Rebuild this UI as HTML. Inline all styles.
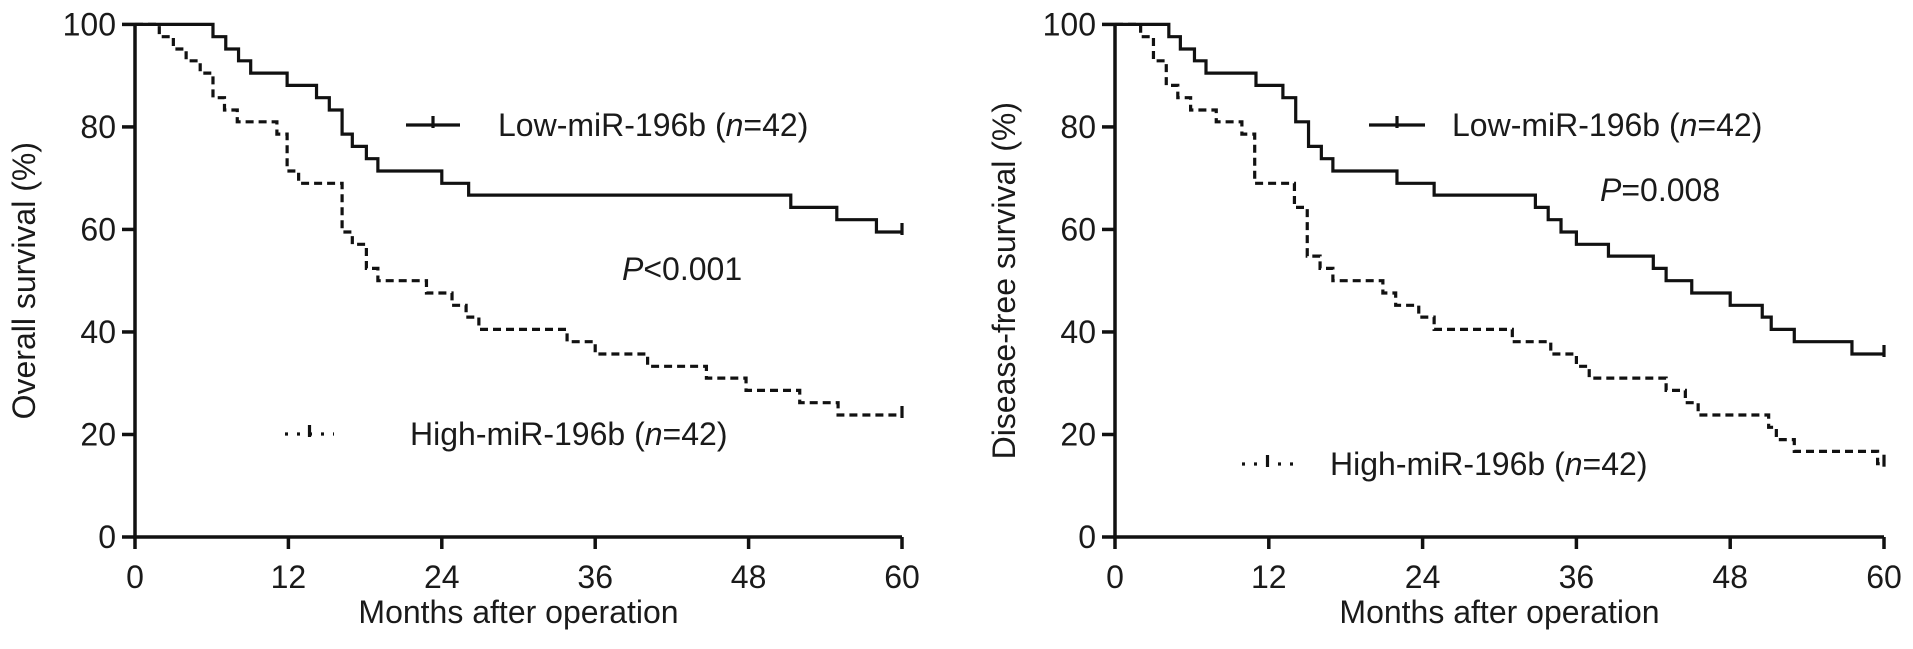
<!DOCTYPE html>
<html><head><meta charset="utf-8"><style>
body{margin:0;background:#fff;}
svg text{font-family:"Liberation Sans",Arial,sans-serif;fill:#1a1a1a;}
</style></head><body>
<svg id="chart" width="1913" height="644" viewBox="0 0 1913 644" xmlns="http://www.w3.org/2000/svg"></svg>
<script>
var xTicks=[0,12,24,36,48,60];
var yTicks=[0,20,40,60,80,100];
var osLowT=[6.1,7.1,8.1,9.05,11.9,14.2,15.2,16.2,17.0,18.1,19.0,24.0,26.1,51.3,54.9,58.0];
var osLowS=[97.6,95.2,92.9,90.5,88.1,85.7,83.3,78.6,76.2,73.8,71.4,69.0,66.7,64.3,61.9,59.5];
var osHighT=[1.9,3.0,4.0,5.1,6.1,7.0,8.0,11.1,11.9,12.8,16.2,17.0,18.1,19.0,22.8,24.8,25.9,26.9,33.8,36.0,40.1,44.7,47.8,52.0,55.0];
var osHighS=[97.6,95.2,92.9,90.5,85.7,83.3,81.0,78.6,71.4,69.0,59.5,57.1,52.4,50.0,47.6,45.2,42.9,40.5,38.1,35.7,33.3,31.0,28.6,26.2,23.8];
var dfsLowT=[4.2,5.1,6.2,7.1,11.0,13.1,14.1,15.1,16.1,17.0,22.0,24.9,32.8,33.8,34.8,36.0,38.5,42.0,43.0,45.0,48.0,50.5,51.2,53.0,57.5];
var dfsLowS=[97.6,95.2,92.9,90.5,88.1,85.7,81.0,76.2,73.8,71.4,69.0,66.7,64.3,61.9,59.5,57.1,54.8,52.4,50.0,47.6,45.2,42.9,40.5,38.1,35.7];
var dfsHighT=[2.0,3.0,4.0,4.9,5.9,7.9,9.9,10.9,14.0,15.0,16.0,17.0,20.9,21.9,23.7,24.9,31.0,34.0,36.0,37.0,43.0,44.5,45.5,51.0,51.6,53.0,59.5];
var dfsHighS=[97.6,92.9,88.1,85.7,83.3,81.0,78.6,69.0,64.3,54.8,52.4,50.0,47.6,45.2,42.9,40.5,38.1,35.7,33.3,31.0,28.6,26.2,23.8,21.4,19.0,16.7,14.3];

var NS='http://www.w3.org/2000/svg';
var svg=document.getElementById('chart');
var FS=32;
function mk(tag,attrs,parent){var e=document.createElementNS(NS,tag);for(var k in attrs){e.setAttribute(k,String(attrs[k]));}(parent||svg).appendChild(e);return e;}
var Y0=537,Y100=24.4;
function yS(v){return Y0-(Y0-Y100)*v/100;}
function addSpans(textEl,parts){
  for(var i=0;i<parts.length;i++){
    var s=document.createElementNS(NS,'tspan');
    if(parts[i][1]){s.setAttribute('font-style','italic');}
    s.textContent=parts[i][0];
    textEl.appendChild(s);
  }
}

function panel(x0,x60,title,lowT,lowS,highT,highS,pfx){
  var g=mk('g',{});
  
  
  var xS=function(t){return x0+(x60-x0)*t/60;};
  var ax=mk('path',{d:'M'+x0+','+yS(100)+' V'+Y0+' H'+x60,stroke:'#111','stroke-width':3.5,fill:'none'},g);
  
  
  xTicks.forEach(function(t){
    var x=xS(t);
    var tk=mk('line',{x1:x,x2:x,y1:Y0,y2:Y0+12,stroke:'#111','stroke-width':3.5},g);
    
    
    var tx=mk('text',{x:x,y:Y0+51,'text-anchor':'middle','font-size':FS},g);
    tx.textContent=String(t);
    
    
  });
  yTicks.forEach(function(v){
    var y=yS(v);
    var tk=mk('line',{x1:x0-13,x2:x0,y1:y,y2:y,stroke:'#111','stroke-width':3.5},g);
    
    
    var tx=mk('text',{x:x0-19,y:y+11,'text-anchor':'end','font-size':FS},g);
    tx.textContent=String(v);
    
    
  });
  var xt=mk('text',{x:(x0+x60)/2,y:Y0+86,'text-anchor':'middle','font-size':FS},g);
  xt.textContent='Months after operation';
  
  
  var yx=x0-100,yy=(Y0+Y100)/2;
  var yt=mk('text',{x:yx,y:yy,'text-anchor':'middle','font-size':FS,transform:'rotate(-90 '+yx+' '+yy+')'},g);
  yt.textContent=title;
  
  
  function curve(T,S,dash,name){
    var d='M'+xS(0)+','+yS(100);var cur=100;
    for(var i=0;i<T.length;i++){d+=' H'+xS(T[i])+' V'+yS(S[i]);cur=S[i];}
    d+=' H'+xS(60);
    var attrs={d:d,stroke:'#111','stroke-width':3.2,fill:'none'};
    if(dash){attrs['stroke-dasharray']=dash;}
    var p=mk('path',attrs,g);
    
    
    var c=mk('line',{x1:xS(60),x2:xS(60),y1:yS(cur)-9,y2:yS(cur)+3,stroke:'#111','stroke-width':3.2},g);
    
    
  }
  curve(lowT,lowS,null,pfx+'-low-curve');
  curve(highT,highS,'8 5',pfx+'-high-curve');
  return g;
}
var gL=panel(135,902,'Overall survival (%)',osLowT,osLowS,osHighT,osHighS,'os');
var gR=panel(1115,1884,'Disease-free survival (%)',dfsLowT,dfsLowS,dfsHighT,dfsHighS,'dfs');

function legend(g,x1,x2,tx,y,dashed,label,pfx){
  var la={x1:x1,x2:x2,y1:y,y2:y,stroke:'#111','stroke-width':3.2};
  if(dashed){la['stroke-dasharray']='3 9';}
  var l=mk('line',la,g);
  
  
  var m=(x1+x2)/2;
  var tkm=mk('line',{x1:m,x2:m,y1:y-9,y2:y+3,stroke:'#111','stroke-width':3.2},g);
  
  
  var te=mk('text',{x:tx,y:y+11,'font-size':FS},g);
  addSpans(te,[[label+' (',false],['n',true],['=42)',false]]);
  
  
}
legend(gL,406,460,498,125,false,'Low-miR-196b','os-low');
legend(gL,285,334,410,434,true,'High-miR-196b','os-high');
legend(gR,1369,1425,1452,125,false,'Low-miR-196b','dfs-low');
legend(gR,1242,1293,1330,464,true,'High-miR-196b','dfs-high');

var p1=mk('text',{x:622,y:280,'font-size':FS},gL);
addSpans(p1,[['P',true],['<0.001',false]]);


var p2=mk('text',{x:1600,y:201,'font-size':FS},gR);
addSpans(p2,[['P',true],['=0.008',false]]);


</script>
</body></html>
